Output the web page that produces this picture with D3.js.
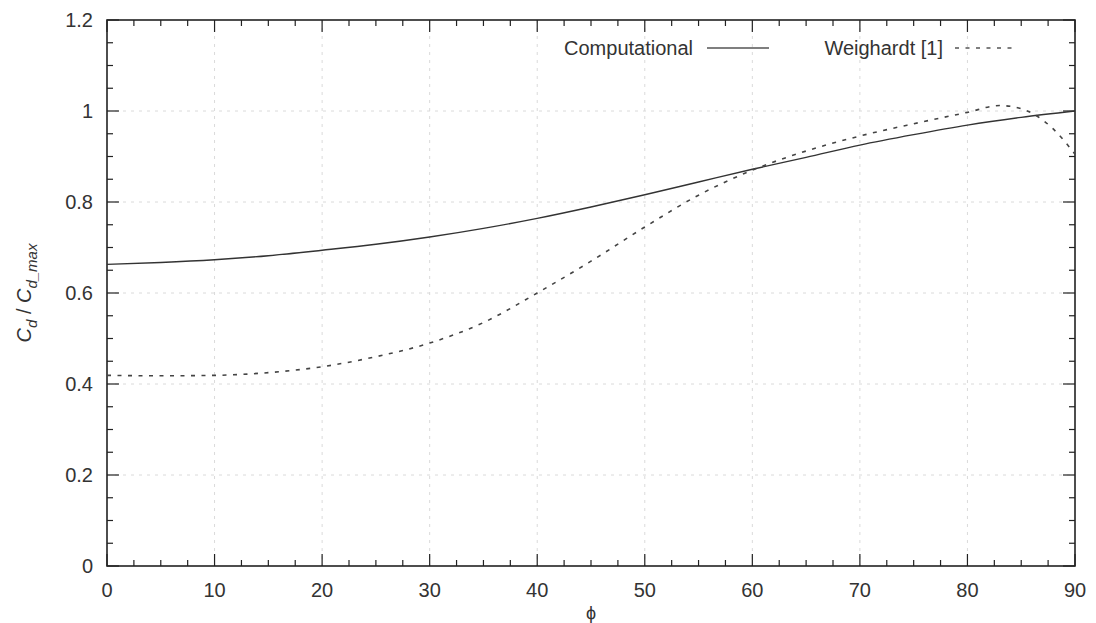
<!DOCTYPE html>
<html>
<head>
<meta charset="utf-8">
<script src="https://cdn.jsdelivr.net/npm/d3@7"></script>
<style>
  body { margin: 0; background: #fff; }
  svg text { font-family: "Liberation Sans", Arial, sans-serif; fill: #333; }
</style>
</head>
<body>
<div id="chart"></div>
<script>
// computational curve
const phiComp = [0, 5, 10, 15, 20, 25, 30, 35, 40, 45, 50, 55, 60, 65, 70, 75, 80, 85, 90];
const cdComp = [0.663, 0.667, 0.673, 0.682, 0.694, 0.707, 0.723, 0.742, 0.764, 0.789, 0.816, 0.844, 0.872, 0.898, 0.925, 0.948, 0.969, 0.986, 1.0];

// Weighardt [1] measurements
const phiWeig = [0, 5, 10, 15, 20, 25, 30, 35, 40, 45, 50, 55, 60, 65, 70, 75, 80, 83, 85, 88, 90];
const cdWeig = [0.419, 0.418, 0.419, 0.425, 0.438, 0.46, 0.49, 0.535, 0.6, 0.67, 0.745, 0.815, 0.87, 0.912, 0.945, 0.972, 0.997, 1.012, 1.005, 0.96, 0.905];

const xTicks = [0, 10, 20, 30, 40, 50, 60, 70, 80, 90];
const yTicks = [0, 0.2, 0.4, 0.6, 0.8, 1, 1.2];
const legendLabels = ["Computational", "Weighardt [1]"];

const width = 1096, height = 623;
const margin = { top: 20, right: 21, bottom: 57, left: 107 };
const iw = width - margin.left - margin.right;
const ih = height - margin.top - margin.bottom;
const fs = "20px";

const svg = d3.select("#chart").append("svg")
  .attr("width", width)
  .attr("height", height);

const x = d3.scaleLinear().domain([0, 90]).range([0, iw]);
const y = d3.scaleLinear().domain([0, 1.2]).range([ih, 0]);

const g = svg.append("g").attr("transform", `translate(${margin.left},${margin.top})`);

// grid
g.append("g").selectAll("line").data(xTicks.slice(1, -1)).join("line")
  .attr("x1", d => x(d)).attr("x2", d => x(d))
  .attr("y1", 0).attr("y2", ih)
  .attr("stroke", "#dadada").attr("stroke-width", 1)
  .attr("stroke-dasharray", "3,5");
g.append("g").selectAll("line").data(yTicks.slice(1, -1)).join("line")
  .attr("y1", d => y(d)).attr("y2", d => y(d))
  .attr("x1", 0).attr("x2", iw)
  .attr("stroke", "#dadada").attr("stroke-width", 1)
  .attr("stroke-dasharray", "3,5");

// ticks on all four sides (mirrored like gnuplot)
const xMinor = d3.range(0, 90.001, 2.5).filter(d => d % 10 !== 0);
const yMinor = d3.range(0, 1.2001, 0.05).filter(d => Math.abs(d * 5 - Math.round(d * 5)) > 1e-6);
const tickG = g.append("g").attr("stroke", "#222").attr("stroke-width", 1.2);
function xt(vals, len) {
  vals.forEach(v => {
    tickG.append("line").attr("x1", x(v)).attr("x2", x(v)).attr("y1", ih).attr("y2", ih - len);
    tickG.append("line").attr("x1", x(v)).attr("x2", x(v)).attr("y1", 0).attr("y2", len);
  });
}
function yt(vals, len) {
  vals.forEach(v => {
    tickG.append("line").attr("y1", y(v)).attr("y2", y(v)).attr("x1", 0).attr("x2", len);
    tickG.append("line").attr("y1", y(v)).attr("y2", y(v)).attr("x1", iw).attr("x2", iw - len);
  });
}
xt(xTicks, 12); xt(xMinor, 6);
yt(yTicks, 12); yt(yMinor, 6);

// frame
g.append("rect").attr("width", iw).attr("height", ih)
  .attr("fill", "none").attr("stroke", "#222").attr("stroke-width", 1.6);

// tick labels
g.append("g").selectAll("text").data(xTicks).join("text")
  .attr("x", d => x(d)).attr("y", ih + 31)
  .attr("text-anchor", "middle")
  .style("font-size", fs)
  .text(d => d);
g.append("g").selectAll("text").data(yTicks).join("text")
  .attr("x", -14).attr("y", d => y(d) + 7)
  .attr("text-anchor", "end")
  .style("font-size", fs)
  .text(d => d);

// axis labels
svg.append("text")
  .attr("x", margin.left + iw / 2).attr("y", 619)
  .attr("text-anchor", "middle")
  .style("font-size", "18px")
  .text("\u03D5");

const yl = svg.append("text")
  .attr("transform", `translate(31,${margin.top + ih / 2}) rotate(-90)`)
  .attr("text-anchor", "middle")
  .style("font-size", fs);
yl.append("tspan").style("font-style", "italic").text("C");
yl.append("tspan").style("font-style", "italic").style("font-size", "15px").attr("dy", 6).text("d");
yl.append("tspan").attr("dy", -6).text(" / ");
yl.append("tspan").style("font-style", "italic").text("C");
yl.append("tspan").style("font-style", "italic").style("font-size", "15px").attr("dy", 6).text("d_max");

// curves
const line = d3.line().x(d => x(d[0])).y(d => y(d[1])).curve(d3.curveMonotoneX);
g.append("path")
  .datum(phiComp.map((p, i) => [p, cdComp[i]]))
  .attr("d", line)
  .attr("fill", "none").attr("stroke", "#333").attr("stroke-width", 1.4);
g.append("path")
  .datum(phiWeig.map((p, i) => [p, cdWeig[i]]))
  .attr("d", line)
  .attr("fill", "none").attr("stroke", "#444").attr("stroke-width", 1.6)
  .attr("stroke-dasharray", "4,6.5");

// legend
const leg = [
  { label: legendLabels[0], textX: 693, x1: 707, x2: 769, dash: null },
  { label: legendLabels[1], textX: 943, x1: 955, x2: 1013, dash: "4,6.5" }
];
leg.forEach(l => {
  svg.append("text").attr("x", l.textX).attr("y", 55)
    .attr("text-anchor", "end").style("font-size", fs).text(l.label);
  svg.append("line").attr("x1", l.x1).attr("x2", l.x2).attr("y1", 48).attr("y2", 48)
    .attr("stroke", "#555").attr("stroke-width", 1.4)
    .attr("stroke-dasharray", l.dash);
});
</script>
</body>
</html>
